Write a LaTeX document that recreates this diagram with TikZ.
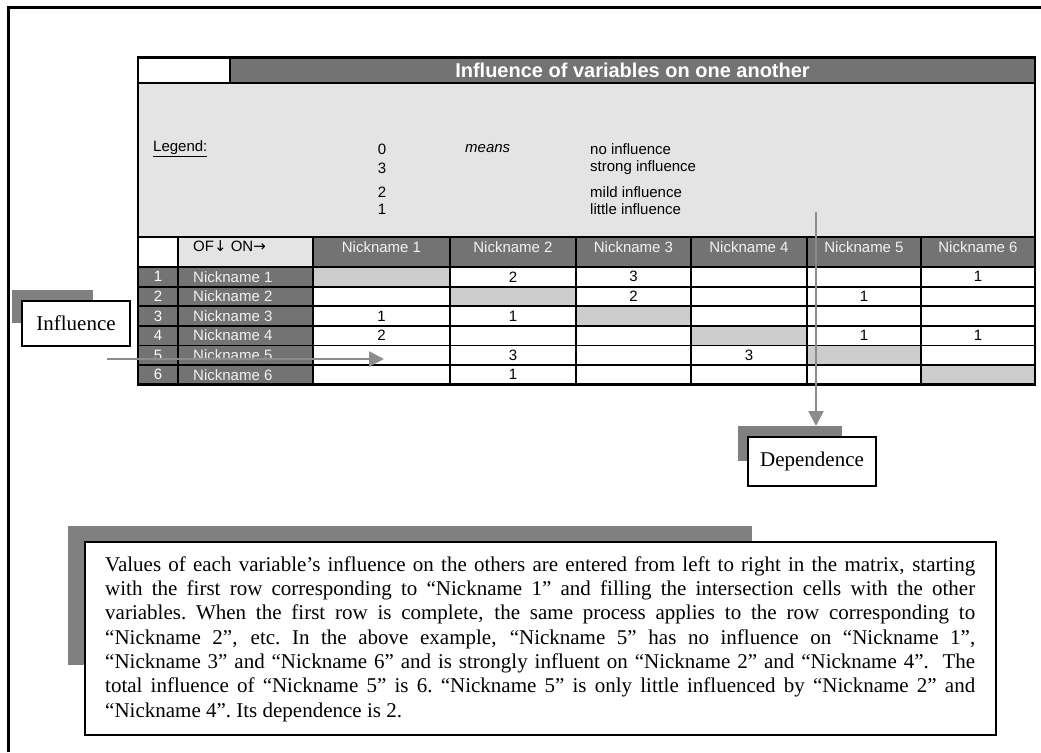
\documentclass[tikz,border=0pt]{standalone}
\usepackage{fontspec}
\setmainfont{Liberation Serif}
\setsansfont{Liberation Sans}
\newfontfamily\arrowfont{DejaVu Sans}
\usetikzlibrary{arrows.meta}

\definecolor{darkcell}{HTML}{737373}
\definecolor{legendbg}{HTML}{E4E4E4}
\definecolor{diagcell}{HTML}{CCCCCC}
\definecolor{shadowgray}{HTML}{808080}
\definecolor{arrowgray}{HTML}{8C8C8C}
\definecolor{headtext}{HTML}{F2F2F2}

% one justified line of the explanation text
\newcommand{\fullline}[1]{\hbox to 870pt{#1}}

\begin{document}
\begin{tikzpicture}[x=1pt,y=-1pt,
  cellline/.style={line width=1.8pt},
  tabfont/.style={font=\sffamily\fontsize{15}{18}\selectfont, inner sep=0pt},
  lighttext/.style={tabfont, text=headtext},
  labelbox/.style={draw, line width=1.4pt, fill=white, inner sep=0pt,
    font=\rmfamily\fontsize{21}{25}\selectfont},
  shadowbox/.style={fill=shadowgray, draw=none, inner sep=0pt, anchor=north west},
  pointer/.style={draw=arrowgray, line width=2.6pt,
    -{Triangle[length=15pt,width=15pt]}}]

% page
\path[use as bounding box, fill=white] (0,0) rectangle (1041,752);
\draw[line width=2.2pt] (8.5,752) -- (8.5,7.5) -- (1041,7.5);

% ---- table backgrounds ----
\fill[white]    (138,57.5) rectangle (230,83);
\fill[darkcell] (230,57.5) rectangle (1035,83);
\fill[legendbg] (138,83)   rectangle (1035,237);
\fill[white]    (138,237)  rectangle (178,267);
\fill[legendbg] (178,237)  rectangle (313,267);
\fill[darkcell] (313,237)  rectangle (1035,267);
\fill[darkcell] (138,267)  rectangle (313,384.6);
\fill[white]    (313,267)  rectangle (1035,384.6);
\foreach \a/\b [count=\i] in {313/450,450/576,576/691,691/807,807/921,921/1035}{
  \fill[diagcell] (\a,{267+19.6*(\i-1)}) rectangle (\b,{267+19.6*\i});
  \node[lighttext] (head\i) at ({(\a+\b)/2},247) {Nickname \i};
}

% ---- grid ----
\draw[cellline] (138,83) -- (1035,83);
\draw[cellline] (230,57.5) -- (230,83);
\foreach \y in {237,267,286.6,306.2,325.8,345.4,365}
  \draw[cellline] (138,\y) -- (1035,\y);
\foreach \x in {178,313,450,576,691,807,921}
  \draw[cellline] (\x,237) -- (\x,384.6);
\draw[line width=2.4pt] (138,57.5) rectangle (1035,384.6);

% ---- title and legend ----
\node[font=\sffamily\bfseries\fontsize{20}{24}\selectfont, text=white, inner sep=0pt]
  (title) at (632.5,70) {Influence of variables on one another};
\node[tabfont, anchor=west] (legend) at (153,149) {\underline{Legend:}};
\node[tabfont] (lv0) at (382,149) {0};
\node[tabfont] (lv3) at (382,168) {3};
\node[tabfont] (lv2) at (382,192) {2};
\node[tabfont] (lv1) at (382,209) {1};
\node[tabfont, anchor=west, font=\sffamily\itshape\fontsize{15}{18}\selectfont] (means) at (465,149) {means};
\node[tabfont, anchor=west] (ld0) at (590,149) {no influence};
\node[tabfont, anchor=west] (ld3) at (590,168) {strong influence};
\node[tabfont, anchor=west] (ld2) at (590,192) {mild influence};
\node[tabfont, anchor=west] (ld1) at (590,209) {little influence};
\node[tabfont, anchor=west] (ofon) at (193,246)
  {OF{\arrowfont\fontsize{15}{18}\selectfont↓}\ ON{\arrowfont\fontsize{15}{18}\selectfont→}};

% ---- row labels ----
\foreach \i in {1,...,6}{
  \node[lighttext, text=white] (num\i) at (158,{267+19.6*(\i-0.5)}) {\i};
  \node[lighttext, anchor=west] (name\i) at (193,{267+19.6*(\i-0.5)}) {Nickname \i};
}

% ---- matrix values (row/column/value) ----
\foreach \r/\c/\v in {1/2/2,1/3/3,1/6/1,2/3/2,2/5/1,3/1/1,3/2/1,4/1/2,4/5/1,4/6/1,5/2/3,5/4/3,6/2/1}{
  \pgfmathsetmacro\xc{{381.5,513,633.5,749,864,978}[\c-1]}
  \node[tabfont] (val\r\c) at (\xc,{267+19.6*(\r-0.5)}) {\v};
}

% ---- Influence label ----
\node[shadowbox, minimum width=81, minimum height=33] (inflshadow) at (12,290) {};
\node[labelbox, minimum width=108, minimum height=45] (influence) at (76,323.5) {Influence};
\coordinate (inflfrom) at (107,359);
\coordinate (inflto) at (384,359);
\draw[pointer] (inflfrom) -- (inflto);

% ---- Dependence label ----
\node[shadowbox, minimum width=104, minimum height=35] (depshadow) at (738,426) {};
\node[labelbox, minimum width=128, minimum height=49] (dependence) at (812,461.5) {Dependence};
\coordinate (depfrom) at (816,212);
\draw[pointer] (depfrom) -- (depshadow.north -| depfrom);

% ---- explanation box ----
\node[shadowbox, minimum width=684, minimum height=139] (noteshadow) at (68,526) {};
\node[draw, line width=2pt, fill=white, anchor=north west, minimum width=911,
  minimum height=193, inner sep=0pt] (notebox) at (84,541) {};
\node[anchor=north west, inner sep=0pt, text width=870pt, align=left,
  font=\rmfamily\fontsize{21}{24.3}\selectfont] (notetext) at (105,556) {%
\spaceskip=0.25em plus 2em minus 0.08em\xspaceskip=\spaceskip
\fullline{\rule{0pt}{15pt}Values of each variable’s influence on the others are entered from left to right in the matrix, starting}
\fullline{with the first row corresponding to “Nickname 1” and filling the intersection cells with the other}
\fullline{variables. When the first row is complete, the same process applies to the row corresponding to}
\fullline{“Nickname 2”, etc. In the above example, “Nickname 5” has no influence on “Nickname 1”,}
\fullline{“Nickname 3” and “Nickname 6” and is strongly influent on “Nickname 2” and “Nickname 4”. \ The}
\fullline{total influence of “Nickname 5” is 6. “Nickname 5” is only little influenced by “Nickname 2” and}
\noindent “Nickname 4”. Its dependence is 2.};
\end{tikzpicture}
\end{document}
